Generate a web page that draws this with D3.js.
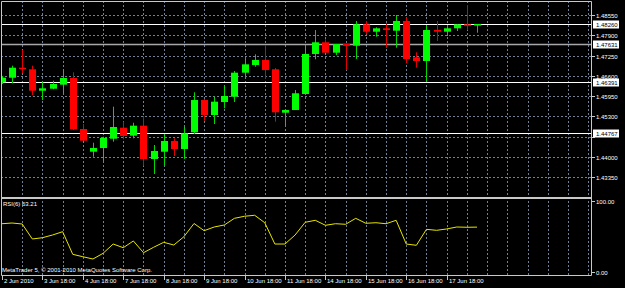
<!DOCTYPE html>
<html>
<head>
<meta charset="utf-8">
<script src="https://cdn.jsdelivr.net/npm/d3@7"></script>
<style>
  html, body { margin: 0; padding: 0; background: #000; }
  svg { display: block; }
  text { font-family: "Liberation Sans", Arial, sans-serif; font-size: 6px; fill: #fff; }
</style>
</head>
<body>
<div id="chart"></div>
<script>
// EURUSD-ish H6 candles with RSI(6) sub window, MetaTrader 5 look

const opens = [1.46390,1.46537,1.46858,1.46807,1.46120,1.46184,1.46313,1.46528,1.44891,1.44162,1.44281,1.44579,1.44932,1.44676,1.44997,1.43928,1.44162,1.44505,1.44249,1.44785,1.45821,1.45340,1.45757,1.45927,1.46698,1.46945,1.47105,1.46807,1.45414,1.45500,1.46014,1.47298,1.47674,1.47340,1.47619,1.47565,1.48251,1.48014,1.48123,1.48046,1.48357,1.47192,1.47073,1.48068,1.48014,1.48123,1.48251,1.48236];
const highs = [1.46592,1.46923,1.47426,1.46923,1.46409,1.46441,1.46817,1.46711,1.45051,1.44451,1.44643,1.45606,1.45125,1.45093,1.45308,1.44377,1.44720,1.44592,1.44964,1.46069,1.45853,1.45927,1.46303,1.46752,1.47179,1.47288,1.47587,1.46849,1.45500,1.46142,1.47532,1.48068,1.47770,1.47619,1.47619,1.48357,1.48357,1.48155,1.48284,1.48550,1.48476,1.47353,1.48229,1.48357,1.48229,1.48251,1.48871,1.48260];
const lows = [1.46335,1.46358,1.46679,1.45982,1.45821,1.46165,1.46014,1.44859,1.44505,1.44001,1.43841,1.44483,1.44560,1.44592,1.43713,1.43446,1.43713,1.44024,1.43928,1.44730,1.45157,1.45051,1.45555,1.45757,1.46505,1.46890,1.46496,1.45125,1.45019,1.45500,1.46014,1.47128,1.47340,1.47266,1.46784,1.47138,1.47930,1.47853,1.47491,1.47500,1.47000,1.46858,1.46409,1.47715,1.47876,1.48036,1.48068,1.47982];
const closes = [1.46537,1.46858,1.46817,1.46120,1.46197,1.46335,1.46528,1.44881,1.44515,1.44281,1.44602,1.44955,1.44666,1.44997,1.43928,1.44184,1.44505,1.44249,1.44753,1.45821,1.45340,1.45767,1.45950,1.46698,1.46967,1.47105,1.46784,1.45427,1.45500,1.46037,1.47298,1.47674,1.47340,1.47619,1.47565,1.48251,1.48014,1.48123,1.48068,1.48357,1.47138,1.47073,1.48068,1.48014,1.48123,1.48251,1.48207,1.48260];
const rsiValues = [68.0,69.0,67.6,46.5,48.3,52.1,56.8,24.9,21.5,18.3,26.3,39.4,34.2,43.7,27.2,34.8,41.8,38.0,49.7,68.3,58.2,63.4,66.2,75.6,78.5,79.9,69.4,39.4,39.4,52.1,70.0,72.8,65.8,68.0,67.2,75.6,68.6,69.4,68.0,72.8,39.4,37.6,60.1,58.7,60.6,63.4,63.0,63.21];

// time labels sit on every 4th bar
const timeLabels = ["2 Jun 2010","3 Jun 18:00","4 Jun 18:00","7 Jun 18:00","8 Jun 18:00","9 Jun 18:00","10 Jun 18:00","11 Jun 18:00","14 Jun 18:00","15 Jun 18:00","16 Jun 18:00","17 Jun 18:00"];
const priceTicks = [1.48550,1.47900,1.47250,1.46600,1.45950,1.45300,1.44650,1.44000,1.43350];
const rsiTicks = [100, 0];
// horizontal lines drawn on the chart (bid + user lines)
const priceLines = [1.48260, 1.47631, 1.46391, 1.44767];
const lineColors = ["#ffffff", "#a8a8a8", "#ffffff", "#ffffff"];

class MtChart {
  constructor(_parent) {
    this.parent = _parent;
    this.width = 625;
    this.height = 288;
    this.left = 1;
    this.right = 591;
    this.top = 1;
    this.sep = 198;
    this.bottom = 275;
    this.bodyWidth = 7;
    this.bars = opens.map((o, i) => ({
      i: i, o: o, h: highs[i], l: lows[i], c: closes[i], rsi: rsiValues[i]
    }));
    this.initVis();
  }

  initVis() {
    const vis = this;

    vis.svg = d3.select(vis.parent)
      .append("svg")
      .attr("width", vis.width)
      .attr("height", vis.height)
      .style("background", "#000");

    // scales
    vis.x = d3.scaleLinear().domain([0, 47]).range([2, 477]);
    vis.y = d3.scaleLinear().domain([1.43350, 1.48550]).range([177, 15]);
    vis.yRsi = d3.scaleLinear().domain([0, 100]).range([272, 201]);

    vis.renderVis();
  }

  renderVis() {
    const vis = this;
    const gridIdx = d3.range(2, 60, 2).filter(i => vis.x(i) < vis.right - 1);

    // dashed grid, main window
    vis.svg.append("g")
      .selectAll("line")
      .data(priceTicks)
      .join("line")
      .attr("x1", vis.left).attr("x2", vis.right)
      .attr("y1", d => Math.round(vis.y(d)) + 0.5)
      .attr("y2", d => Math.round(vis.y(d)) + 0.5)
      .attr("stroke", "#718093")
      .attr("stroke-dasharray", "2,2");

    vis.svg.append("g")
      .selectAll("line")
      .data(gridIdx)
      .join("line")
      .attr("x1", d => Math.round(vis.x(d)) + 0.5)
      .attr("x2", d => Math.round(vis.x(d)) + 0.5)
      .attr("y1", vis.top).attr("y2", vis.bottom)
      .attr("stroke", "#718093")
      .attr("stroke-dasharray", "2,2");

    // horizontal lines
    vis.svg.append("g")
      .selectAll("line")
      .data(priceLines)
      .join("line")
      .attr("x1", vis.left).attr("x2", vis.right)
      .attr("y1", d => Math.round(vis.y(d)) + 0.5)
      .attr("y2", d => Math.round(vis.y(d)) + 0.5)
      .attr("stroke", (d, i) => lineColors[i])
      .attr("stroke-width", (d, i) => i === 1 ? 1.6 : 1);

    // candles
    vis.svg.append("clipPath").attr("id", "main-clip")
      .append("rect")
      .attr("x", vis.left + 0.5).attr("y", vis.top)
      .attr("width", vis.right - vis.left).attr("height", vis.sep - vis.top - 1);

    const candles = vis.svg.append("g")
      .attr("clip-path", "url(#main-clip)")
      .selectAll("g")
      .data(vis.bars)
      .join("g");

    candles.append("line")
      .attr("x1", d => Math.round(vis.x(d.i)) + 0.5)
      .attr("x2", d => Math.round(vis.x(d.i)) + 0.5)
      .attr("y1", d => vis.y(d.h))
      .attr("y2", d => vis.y(d.l))
      .attr("stroke", d => d.c >= d.o ? "#00d800" : "#e00000");

    candles.append("rect")
      .attr("x", d => Math.round(vis.x(d.i)) - 3)
      .attr("width", vis.bodyWidth)
      .attr("y", d => vis.y(Math.max(d.o, d.c)))
      .attr("height", d => Math.max(1.5, Math.abs(vis.y(d.o) - vis.y(d.c))))
      .attr("fill", d => d.c >= d.o ? "#00ff00" : "#ff0000");

    // RSI line
    const rsiLine = d3.line()
      .x(d => vis.x(d.i))
      .y(d => vis.yRsi(d.rsi));

    vis.svg.append("path")
      .datum(vis.bars)
      .attr("d", rsiLine)
      .attr("fill", "none")
      .attr("stroke", "#e6e600")
      .attr("stroke-width", 1);

    // frame
    vis.svg.append("path")
      .attr("d", `M${vis.left + 0.5},${vis.bottom + 0.5}V${vis.top + 0.5}H${vis.right + 0.5}V${vis.bottom + 0.5}H${vis.left + 0.5}`)
      .attr("fill", "none")
      .attr("stroke", "#c8c8c8");

    vis.svg.append("line")
      .attr("x1", vis.left).attr("x2", vis.right + 1)
      .attr("y1", vis.sep).attr("y2", vis.sep)
      .attr("stroke", "#c8c8c8")
      .attr("stroke-width", 2);

    // right price axis; a tick label right under a boxed line label stays hidden
    const hidden = d => priceLines.some(p => Math.abs(vis.y(p) - vis.y(d)) < 5);
    const pAxis = vis.svg.append("g")
      .selectAll("g")
      .data(priceTicks)
      .join("g")
      .attr("transform", d => `translate(${vis.right},${Math.round(vis.y(d)) + 0.5})`);
    pAxis.append("line").attr("x2", 4).attr("stroke", "#c8c8c8");
    pAxis.filter(d => !hidden(d))
      .append("text").attr("x", 5).attr("dy", "0.35em").text(d => d.toFixed(5));

    // price line labels, boxed
    const pBox = vis.svg.append("g")
      .selectAll("g")
      .data(priceLines)
      .join("g")
      .attr("transform", d => `translate(${vis.right + 2},${Math.round(vis.y(d)) + 0.5})`);
    pBox.append("rect")
      .attr("x", 0).attr("y", -4).attr("width", 26).attr("height", 8)
      .attr("fill", "#fff");
    pBox.append("text").attr("x", 3).attr("dy", "0.35em")
      .style("fill", "#000")
      .text(d => d.toFixed(5));

    // RSI axis
    const rAxis = vis.svg.append("g")
      .selectAll("g")
      .data(rsiTicks)
      .join("g")
      .attr("transform", d => `translate(${vis.right},${Math.round(vis.yRsi(d)) + 0.5})`);
    rAxis.append("line").attr("x2", 4).attr("stroke", "#c8c8c8");
    rAxis.append("text").attr("x", 5).attr("dy", "0.35em").text(d => d.toFixed(2));

    // time axis
    const tAxis = vis.svg.append("g")
      .selectAll("g")
      .data(timeLabels)
      .join("g")
      .attr("transform", (d, k) => `translate(${Math.round(vis.x(k * 4)) + 0.5},${vis.bottom})`);
    tAxis.append("line").attr("y1", 0).attr("y2", 5).attr("stroke", "#c8c8c8");
    tAxis.append("text").attr("x", 1.5).attr("y", 8).text(d => d);

    // captions
    vis.svg.append("text")
      .attr("x", 3).attr("y", 206)
      .text(`RSI(6) ${rsiValues[rsiValues.length - 1].toFixed(2)}`);
    vis.svg.append("text")
      .attr("x", 2).attr("y", 272)
      .text("MetaTrader 5, © 2001-2010 MetaQuotes Software Corp.");
  }
}

new MtChart("#chart");
</script>
</body>
</html>
